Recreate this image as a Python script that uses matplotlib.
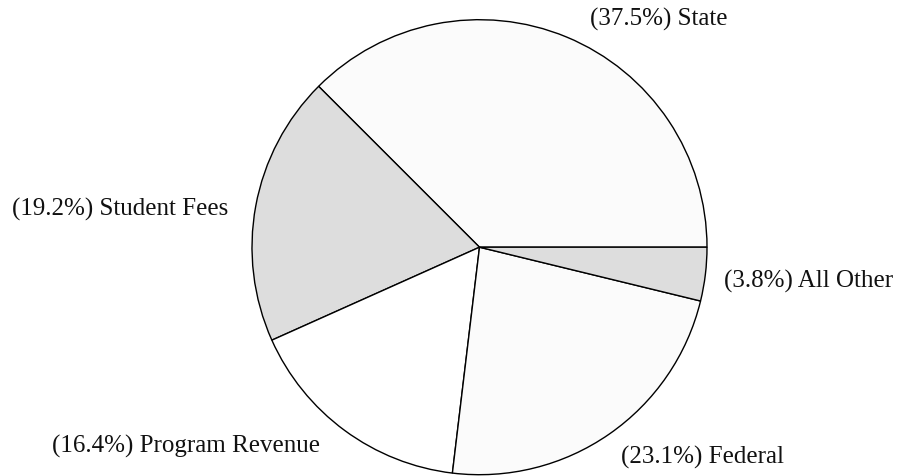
import matplotlib

matplotlib.use("Agg")

import matplotlib.pyplot as plt

# slice data, counter-clockwise from 3 o'clock
categories = ["State", "Student Fees", "Program Revenue", "Federal", "All Other"]
shares = [37.5, 19.2, 16.4, 23.1, 3.8]
colors = ["#fbfbfb", "#dddddd", "#ffffff", "#fbfbfb", "#dddddd"]

# label anchors (radius units, text baseline) and horizontal alignment
label_pos = [(0.487, 0.978), (-1.105, 0.145), (-0.702, -0.899), (0.623, -0.947), (1.075, -0.171)]
label_ha = ["left", "right", "right", "left", "left"]

W, H, DPI = 901, 477, 100
CX, CY, R = 479.5, 248.2, 227.5

fig = plt.figure(figsize=(W / DPI, H / DPI), dpi=DPI)
ax = fig.add_axes([0, 0, 1, 1])

wedges, texts = ax.pie(
    shares,
    labels=[f"({s}%) {c}" for s, c in zip(shares, categories)],
    colors=colors,
    startangle=0,
    counterclock=True,
    wedgeprops={"edgecolor": "black", "linewidth": 1.0},
    textprops={"family": "Liberation Serif", "fontsize": 18, "color": "#111111"},
)
for t, pos, ha in zip(texts, label_pos, label_ha):
    t.set_position(pos)
    t.set_ha(ha)
    t.set_va("baseline")

ax.set_aspect("auto")
ax.set_xlim(-CX / R, (W - CX) / R)
ax.set_ylim(-(H - CY) / R, CY / R)
ax.axis("off")

fig.savefig("out.png", dpi=DPI)
